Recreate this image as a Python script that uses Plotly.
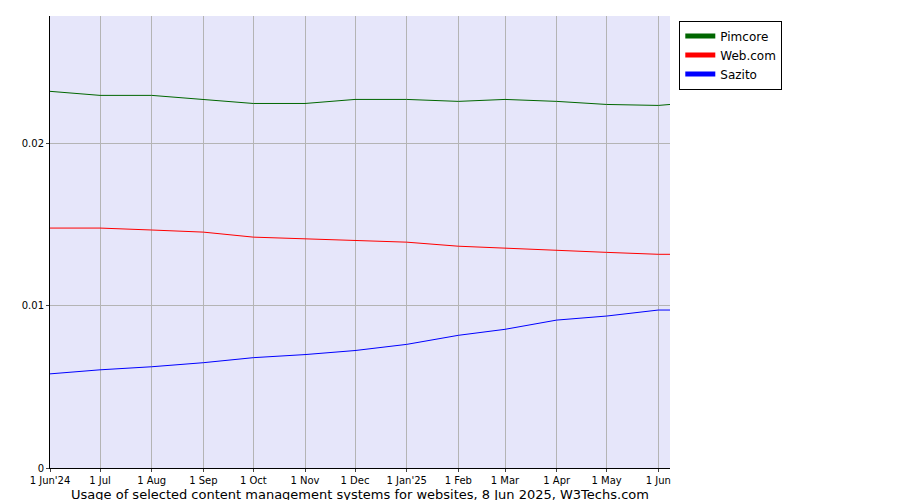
import plotly.graph_objects as go

dates = ["2024-06-01", "2024-07-01", "2024-08-01", "2024-09-01", "2024-10-01", "2024-11-01",
         "2024-12-01", "2025-01-01", "2025-02-01", "2025-03-01", "2025-04-01", "2025-05-01",
         "2025-06-01", "2025-06-08"]
pimcore = [0.02325, 0.0230, 0.0230, 0.02275, 0.0225, 0.0225, 0.02275, 0.02275, 0.02263,
           0.02275, 0.02263, 0.02244, 0.02238, 0.02244]
webcom = [0.01481, 0.01481, 0.01469, 0.01456, 0.01425, 0.01413, 0.01406, 0.01394, 0.01369,
          0.01356, 0.01344, 0.01331, 0.01319, 0.01319]
sazito = [0.00581, 0.00606, 0.00625, 0.0065, 0.00681, 0.007, 0.00725, 0.00763, 0.00819,
          0.00856, 0.00913, 0.00938, 0.00975, 0.00975]

tick_vals = dates[:-1]
tick_text = ["1 Jun'24", "1 Jul", "1 Aug", "1 Sep", "1 Oct", "1 Nov", "1 Dec", "1 Jan'25",
             "1 Feb", "1 Mar", "1 Apr", "1 May", "1 Jun"]

fig = go.Figure()
for name, vals, col in [("Pimcore", pimcore, "#006600"), ("Web.com", webcom, "#ff0000"),
                        ("Sazito", sazito, "#0000ff")]:
    fig.add_trace(go.Scatter(x=dates, y=vals, name=name, mode="lines",
                             line=dict(color=col, width=1)))

fig.update_layout(
    width=900, height=500,
    margin=dict(l=42, r=238, t=8, b=40),
    plot_bgcolor="#e6e6fa", paper_bgcolor="white",
    font=dict(family="DejaVu Sans", size=10, color="black"),
    showlegend=True,
    legend=dict(x=1.015, y=0.99, xanchor="left", yanchor="top", bordercolor="black",
                borderwidth=1, font=dict(size=12), tracegroupgap=0, itemwidth=30,
                itemsizing="constant"),
    xaxis=dict(range=["2024-06-01", "2025-06-08"], tickvals=tick_vals, ticktext=tick_text,
               showgrid=True, gridcolor="#b4b4b4", linecolor="black", showline=True,
               ticks="outside", ticklen=3, tickfont=dict(size=10),
               title=dict(text="Usage of selected content management systems for websites, 8 Jun 2025, W3Techs.com",
                          font=dict(size=13), standoff=4)),
    yaxis=dict(range=[0, 0.0279], tickvals=[0, 0.01, 0.02], ticktext=["0", "0.01", "0.02"],
               showgrid=True, gridcolor="#b4b4b4", linecolor="black", showline=True,
               ticks="outside", ticklen=3, zeroline=False),
)
fig.write_html("out.html")
